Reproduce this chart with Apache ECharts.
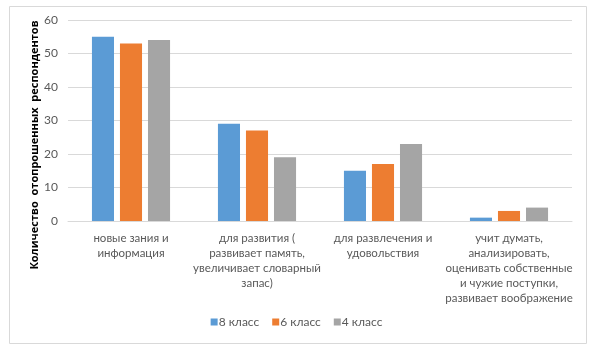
<!DOCTYPE html>
<html>
<head>
<meta charset="utf-8">
<script src="https://cdn.jsdelivr.net/npm/echarts@6/dist/echarts.min.js"></script>
<style>
  html, body { margin: 0; padding: 0; background: #fff; }
  #chart { width: 593px; height: 353px; }
</style>
</head>
<body>
<div id="chart"></div>
<script>
// категории ответов
const categories = [
  'новые зания и\nинформация',
  'для развития (\nразвивает память,\nувеличивает словарный\nзапас)',
  'для развлечения и\nудовольствия',
  'учит думать,\nанализировать,\nоценивать собственные\nи чужие поступки,\nразвивает воображение'
]
const seriesNames = ['8 класс', '6 класс', '4 класс']
const grade8 = [55, 29, 15, 1]
const grade6 = [53, 27, 17, 3]
const grade4 = [54, 19, 23, 4]
const yTicks = [0, 10, 20, 30, 40, 50, 60]
const yTitle = 'Количество  отопрошенных  респондентов'

const colors = ['#5B9BD5', '#ED7D31', '#A5A5A5']
const font = 'Lato, "Open Sans", sans-serif'

const myEcharts = echarts.init(document.getElementById('chart'))

const mkSeries = (name, data) => ({
  name: name,
  type: 'bar',
  barGap: '27%',
  barCategoryGap: '38%',
  data: data
})

myEcharts.setOption({
  animation: false,
  color: colors,
  textStyle: { fontFamily: font },
  graphic: [
    {
      type: 'rect',
      shape: { x: 9.5, y: 6.5, width: 577, height: 337 },
      style: { fill: 'none', stroke: '#D9D9D9', lineWidth: 1 },
      z: -1
    },
    {
      type: 'text',
      x: 35,
      y: 145,
      rotation: Math.PI / 2,
      style: {
        text: yTitle,
        fill: '#000',
        font: 'bold 11px "Open Sans", sans-serif',
        align: 'center',
        verticalAlign: 'middle'
      }
    }
  ],
  legend: {
    data: seriesNames,
    bottom: 20,
    left: 'center',
    itemWidth: 7,
    itemHeight: 7,
    itemGap: 13,
    icon: 'rect',
    selectedMode: false,
    textStyle: { color: '#595959', fontSize: 12, fontFamily: font, padding: [0, 0, 0, -4] }
  },
  grid: {
    left: 68,
    right: 21,
    top: 20,
    bottom: 132
  },
  xAxis: {
    type: 'category',
    data: categories,
    axisTick: { show: false },
    axisLine: { lineStyle: { color: '#D9D9D9' } },
    axisLabel: {
      color: '#595959',
      fontSize: 11.5,
      lineHeight: 15,
      margin: 10,
      interval: 0
    }
  },
  yAxis: {
    type: 'value',
    min: yTicks[0],
    max: yTicks[yTicks.length - 1],
    interval: 10,
    axisLine: { show: false },
    axisTick: { show: false },
    axisLabel: { color: '#595959', fontSize: 12, margin: 10 },
    splitLine: { lineStyle: { color: '#D9D9D9' } }
  },
  series: [
    mkSeries(seriesNames[0], grade8),
    mkSeries(seriesNames[1], grade6),
    mkSeries(seriesNames[2], grade4)
  ]
})
</script>
</body>
</html>
